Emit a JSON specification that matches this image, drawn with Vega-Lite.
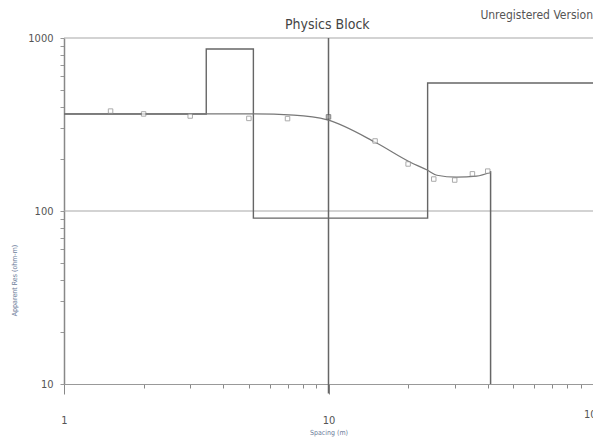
{
  "$schema": "https://vega.github.io/schema/vega-lite/v6.json",
  "width": 529,
  "height": 346,
  "autosize": {"type": "none"},
  "padding": {"left": 64, "top": 38, "right": 0, "bottom": 63},
  "background": "white",
  "config": {"view": {"stroke": null}, "font": "DejaVu Sans Condensed, Liberation Sans, sans-serif"},
  "datasets": {
    "obs": [
      {"spacing": 1.5, "rho": 378},
      {"spacing": 2, "rho": 364},
      {"spacing": 3, "rho": 354},
      {"spacing": 5, "rho": 343},
      {"spacing": 7, "rho": 342},
      {"spacing": 10, "rho": 350},
      {"spacing": 15, "rho": 254},
      {"spacing": 20, "rho": 187},
      {"spacing": 25, "rho": 153},
      {"spacing": 30, "rho": 151},
      {"spacing": 35, "rho": 164},
      {"spacing": 40, "rho": 170}
    ],
    "fit": [
      {"spacing": 1.0, "rho": 364},
      {"spacing": 2.1, "rho": 364},
      {"spacing": 5.0, "rho": 364},
      {"spacing": 7.4, "rho": 358},
      {"spacing": 9.9, "rho": 336},
      {"spacing": 15.2, "rho": 247},
      {"spacing": 20.3, "rho": 192},
      {"spacing": 23.5, "rho": 173},
      {"spacing": 25.7, "rho": 161},
      {"spacing": 30.5, "rho": 157},
      {"spacing": 36.3, "rho": 159},
      {"spacing": 41, "rho": 168}
    ],
    "model": [
      {"spacing": 1, "rho": 364},
      {"spacing": 3.45, "rho": 864},
      {"spacing": 5.2, "rho": 91},
      {"spacing": 23.7, "rho": 549},
      {"spacing": 100, "rho": 549}
    ],
    "hlines": [{"rho": 1000}, {"rho": 100}],
    "vlines": [
      {"spacing": 10, "lo": 8.8, "hi": 1000},
      {"spacing": 41, "lo": 10, "hi": 170}
    ],
    "note": [{"spacing": 100, "rho": 1290, "label": "Unregistered Version"}],
    "ttl": [{"spacing": 9.9, "rho": 1125, "label": "Physics Block"}]
  },
  "layer": [
    {
      "data": {"name": "hlines"},
      "mark": {"type": "rule", "color": "#a8a8a8", "strokeWidth": 1.2},
      "encoding": {
        "y": {
          "field": "rho", "type": "quantitative",
          "scale": {"type": "log", "domain": [10, 1000], "nice": false},
          "axis": {
            "values": [10, 20, 30, 40, 50, 60, 70, 80, 90, 100, 200, 300, 400, 500, 600, 700, 800, 900, 1000],
            "labelExpr": "(datum.value == 10 || datum.value == 100 || datum.value == 1000) ? datum.label : ''",
            "format": "d",
            "labelOverlap": false,
            "grid": false,
            "domainColor": "#888",
            "domainWidth": 1.5,
            "tickColor": "#999",
            "tickSize": 4,
            "labelPadding": 7,
            "labelFontSize": 11,
            "labelColor": "#555",
            "title": "Apparent Res (ohm-m)",
            "titleFontSize": 7,
            "titleFontWeight": "normal",
            "titleColor": "#6b7b99",
            "titleX": -50,
            "titleY": 242,
            "titleAlign": "center",
            "titleBaseline": "middle"
          }
        },
        "x": {
          "datum": 1, "type": "quantitative",
          "scale": {"type": "log", "domain": [1, 100], "nice": false},
          "axis": {
            "values": [1, 2, 3, 4, 5, 6, 7, 8, 9, 10, 20, 30, 40, 50, 60, 70, 80, 90, 100],
            "labelExpr": "(datum.value == 1 || datum.value == 10 || datum.value == 100) ? datum.label : ''",
            "format": "d",
            "labelOverlap": false,
            "labelFlush": false,
            "grid": false,
            "domainColor": "#999",
            "domainWidth": 1.2,
            "tickColor": "#888",
            "tickSize": {"condition": {"test": "datum.value == 1 || datum.value == 10", "value": 10}, "value": 4},
            "labelPadding": 20,
            "labelFontSize": 11,
            "labelColor": "#555",
            "title": "Spacing (m)",
            "titleFontSize": 7,
            "titleFontWeight": "normal",
            "titleColor": "#6b7b99",
            "titlePadding": 3
          }
        },
        "x2": {"datum": 100}
      }
    },
    {
      "data": {"name": "vlines"},
      "mark": {"type": "rule", "color": "#666", "strokeWidth": 1.5},
      "encoding": {
        "x": {"field": "spacing", "type": "quantitative"},
        "y": {"field": "lo", "type": "quantitative"},
        "y2": {"field": "hi"}
      }
    },
    {
      "data": {"name": "model"},
      "mark": {"type": "line", "interpolate": "step-after", "color": "#666", "strokeWidth": 1.4},
      "encoding": {
        "x": {"field": "spacing", "type": "quantitative"},
        "y": {"field": "rho", "type": "quantitative"}
      }
    },
    {
      "data": {"name": "fit"},
      "mark": {"type": "line", "interpolate": "monotone", "color": "#777", "strokeWidth": 1.2},
      "encoding": {
        "x": {"field": "spacing", "type": "quantitative"},
        "y": {"field": "rho", "type": "quantitative"}
      }
    },
    {
      "data": {"name": "obs"},
      "mark": {"type": "point", "shape": "square", "size": 20, "filled": false, "strokeWidth": 1},
      "encoding": {
        "x": {"field": "spacing", "type": "quantitative"},
        "y": {"field": "rho", "type": "quantitative"},
        "color": {"condition": {"test": "datum.spacing == 10", "value": "#555"}, "value": "#888"},
        "fill": {"condition": {"test": "datum.spacing == 10", "value": "#999"}, "value": "white"}
      }
    },
    {
      "data": {"name": "note"},
      "mark": {"type": "text", "align": "right", "baseline": "alphabetic", "fontSize": 12, "color": "#555"},
      "encoding": {
        "x": {"field": "spacing", "type": "quantitative"},
        "y": {"field": "rho", "type": "quantitative"},
        "text": {"field": "label"}
      }
    },
    {
      "data": {"name": "ttl"},
      "mark": {"type": "text", "align": "center", "baseline": "alphabetic", "fontSize": 14, "color": "#444"},
      "encoding": {
        "x": {"field": "spacing", "type": "quantitative"},
        "y": {"field": "rho", "type": "quantitative"},
        "text": {"field": "label"}
      }
    }
  ]
}
